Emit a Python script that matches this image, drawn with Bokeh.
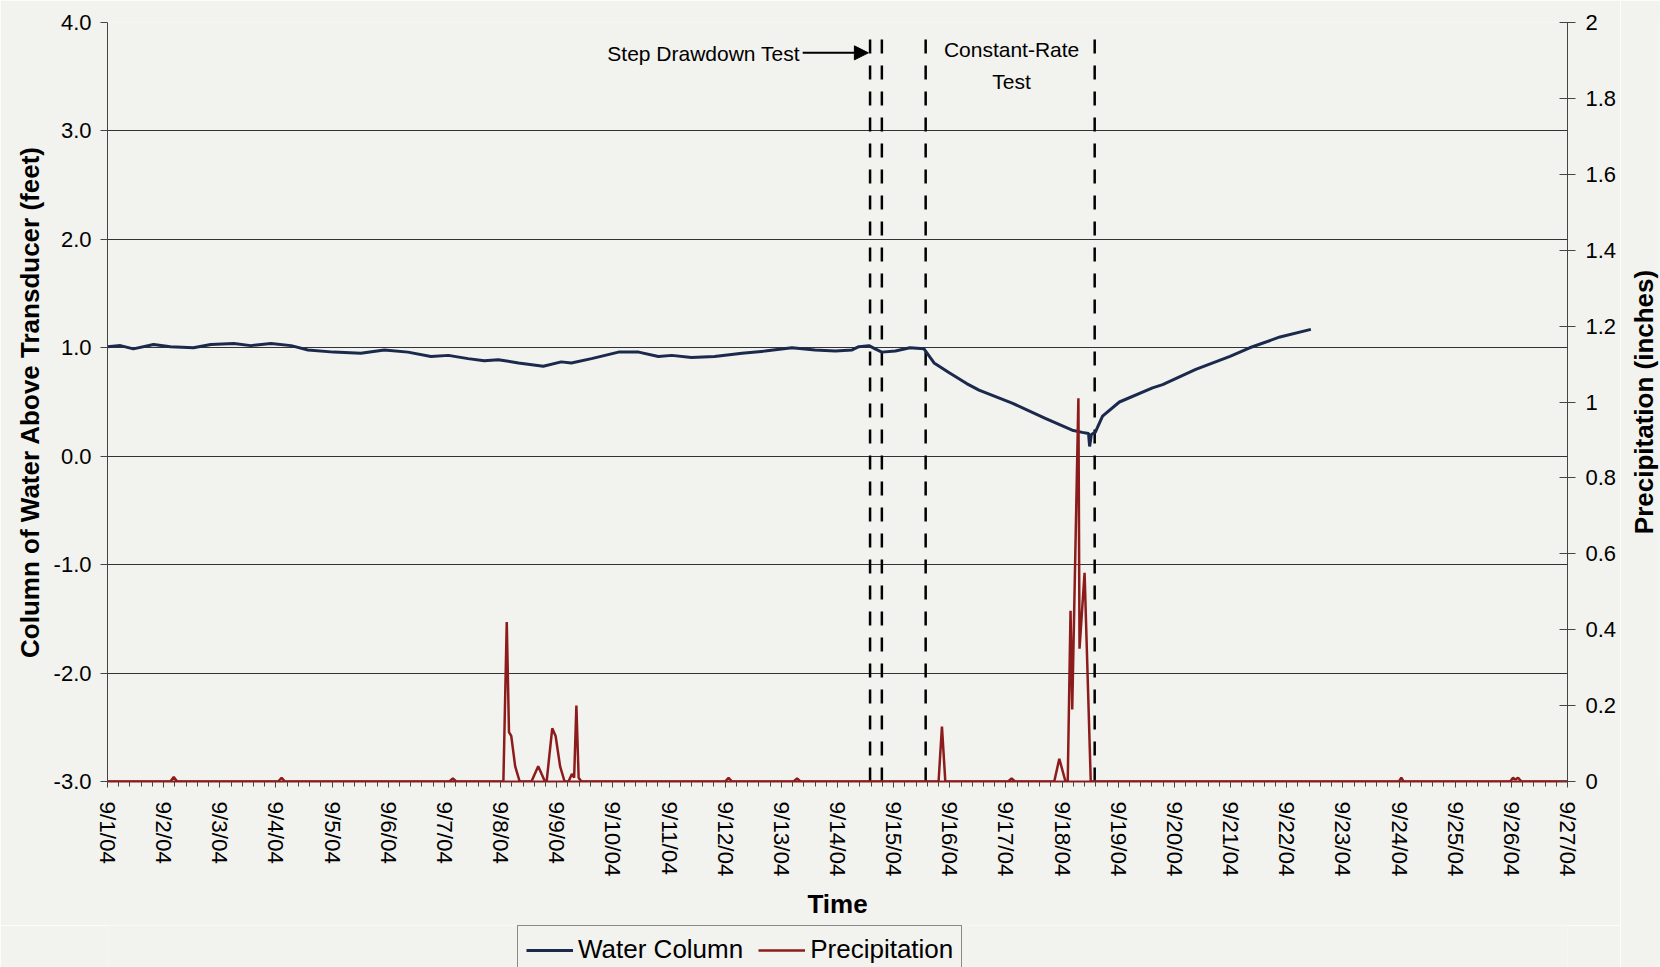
from bokeh.plotting import figure
from bokeh.layouts import column, row
from bokeh.models import (Range1d, LinearAxis, FixedTicker, Legend, LegendItem,
                          Arrow, NormalHead)
from bokeh.core.properties import value
from bokeh.embed import file_html
from bokeh.resources import INLINE

# ---- data (x = days since 9/1/04 00:00) ----
water_day = [0.00, 0.23, 0.46, 0.82, 1.12, 1.53, 1.84, 2.25, 2.55, 2.91,
             3.27, 3.57, 4.03, 4.51, 4.93, 5.35, 5.76, 6.07, 6.42, 6.71,
             6.96, 7.32, 7.76, 8.08, 8.26, 8.62, 9.10, 9.46, 9.81, 10.05,
             10.40, 10.81, 11.30, 11.71, 12.19, 12.60, 12.96, 13.26, 13.38, 13.56,
             13.67, 13.79, 14.03, 14.29, 14.54, 14.72, 14.99, 15.30, 15.52, 16.11,
             16.70, 17.18, 17.36, 17.47, 17.49, 17.52, 17.59, 17.72, 18.02, 18.61,
             18.79, 19.38, 19.99, 20.34, 20.88, 21.43]
water_ft = [1.01, 1.02, 0.99, 1.03, 1.01, 1.00, 1.03, 1.04, 1.02, 1.04,
            1.02, 0.98, 0.96, 0.95, 0.98, 0.96, 0.92, 0.93, 0.90, 0.88,
            0.89, 0.86, 0.83, 0.87, 0.86, 0.90, 0.96, 0.96, 0.92, 0.93,
            0.91, 0.92, 0.95, 0.97, 1.00, 0.98, 0.97, 0.98, 1.01, 1.02,
            0.99, 0.96, 0.97, 1.00, 0.99, 0.86, 0.77, 0.67, 0.61, 0.49,
            0.35, 0.24, 0.22, 0.21, 0.09, 0.20, 0.22, 0.37, 0.50, 0.63,
            0.66, 0.80, 0.92, 1.00, 1.10, 1.17]

precip_day = [0.00, 1.12, 1.18, 1.24, 3.04, 3.10, 3.16, 6.09, 6.15, 6.21,
              7.05, 7.11, 7.15, 7.19, 7.26, 7.34, 7.55, 7.67, 7.79, 7.82,
              7.92, 7.98, 8.06, 8.14, 8.21, 8.27, 8.31, 8.35, 8.39, 8.44,
              11.00, 11.06, 11.12, 12.22, 12.28, 12.34, 14.80, 14.86, 14.92,
              16.04, 16.10, 16.16, 16.86, 16.95, 17.06, 17.10, 17.15, 17.18,
              17.29, 17.31, 17.40, 17.51, 23.00, 23.04, 23.08, 24.98, 25.03,
              25.07, 25.12, 25.18, 26.00]
precip_in = [0, 0, 0.012, 0, 0, 0.01, 0, 0, 0.008, 0,
             0, 0.42, 0.13, 0.12, 0.04, 0, 0, 0.04, 0, 0,
             0.14, 0.12, 0.04, 0, 0, 0.02, 0.01, 0.20, 0.01, 0,
             0, 0.01, 0, 0, 0.008, 0, 0, 0.145, 0,
             0, 0.008, 0, 0, 0.06, 0, 0, 0.45, 0.19,
             1.01, 0.35, 0.55, 0, 0, 0.01, 0, 0, 0.01,
             0.005, 0.01, 0, 0]

# test period boundaries (days): step test start/end, constant-rate start/end
test_marks = [13.58, 13.79, 14.57, 17.58]

date_ticks = list(range(27))
date_labels = ["9/%d/04" % d for d in range(1, 28)]
feet_ticks = [-3, -2, -1, 0, 1, 2, 3, 4]
feet_labels = ["-3.0", "-2.0", "-1.0", "0.0", "1.0", "2.0", "3.0", "4.0"]
inch_ticks = [0, 0.2, 0.4, 0.6, 0.8, 1.0, 1.2, 1.4, 1.6, 1.8, 2.0]
inch_labels = ["0", "0.2", "0.4", "0.6", "0.8", "1", "1.2", "1.4", "1.6", "1.8", "2"]

FONT = "Liberation Sans"
BG = "#f2f2ee"
AXIS = "#444444"
NAVY = "#1b2a4c"
RED = "#8c1c1c"

p = figure(width=1620, height=925, output_backend="svg", toolbar_location=None,
           x_range=Range1d(0, 26), y_range=Range1d(-3, 4),
           min_border_left=107, min_border_right=53, min_border_top=22,
           min_border_bottom=144, background_fill_color=BG, border_fill_color=BG,
           outline_line_color=None)
p.extra_y_ranges = {"precip": Range1d(0, 2)}

# horizontal grid only
p.xgrid.visible = False
p.ygrid.ticker = FixedTicker(ticks=feet_ticks)
p.ygrid.grid_line_color = "#333333"
p.ygrid.grid_line_width = 1

# bottom (date) axis
xa = p.xaxis[0]
xa.ticker = FixedTicker(ticks=date_ticks,
                        minor_ticks=[round(i * 0.2, 1) for i in range(131)])
xa.major_label_overrides = {t: s for t, s in zip(date_ticks, date_labels)}
xa.major_label_orientation = "vertical"
xa.major_label_text_font = FONT
xa.major_label_text_font_size = "22.5px"
xa.major_label_text_color = "black"
xa.major_label_standoff = 14
xa.major_tick_out = 6
xa.major_tick_in = 0
xa.minor_tick_out = 5
xa.minor_tick_in = 0
xa.major_tick_line_color = AXIS
xa.minor_tick_line_color = AXIS
xa.axis_line_color = RED
xa.axis_line_width = 2
xa.axis_label = "Time"
xa.axis_label_text_font = FONT
xa.axis_label_text_font_size = "26px"
xa.axis_label_text_font_style = "bold"
xa.axis_label_text_color = "black"
xa.axis_label_standoff = 9

# left axis (feet)
ya = p.yaxis[0]
ya.ticker = FixedTicker(ticks=feet_ticks)
ya.major_label_overrides = {t: s for t, s in zip(feet_ticks, feet_labels)}
ya.minor_tick_line_color = None
ya.major_tick_out = 7
ya.major_tick_in = 0
ya.major_tick_line_color = AXIS
ya.axis_line_color = AXIS
ya.major_label_text_font = FONT
ya.major_label_text_font_size = "22px"
ya.major_label_text_color = "black"
ya.major_label_standoff = 9
ya.axis_label = "Column of Water Above Transducer (feet)"
ya.axis_label_text_font = FONT
ya.axis_label_text_font_size = "26px"
ya.axis_label_text_font_style = "bold"
ya.axis_label_text_color = "black"
ya.axis_label_standoff = 6

# right axis (inches); its title is drawn in the side strip below
ra = LinearAxis(y_range_name="precip", ticker=FixedTicker(ticks=inch_ticks))
ra.major_label_overrides = {t: s for t, s in zip(inch_ticks, inch_labels)}
ra.minor_tick_line_color = None
ra.major_tick_out = 8
ra.major_tick_in = 8
ra.major_tick_line_color = AXIS
ra.axis_line_color = AXIS
ra.major_label_text_font = FONT
ra.major_label_text_font_size = "22px"
ra.major_label_text_color = "black"
ra.major_label_standoff = 10
p.add_layout(ra, "right")

# test period markers
p.segment(x0=test_marks, y0=[-3] * len(test_marks), x1=test_marks,
          y1=[3.92] * len(test_marks), line_color="black", line_width=2.5,
          line_dash="14 12")

# series
p.line(water_day, water_ft, line_color=NAVY, line_width=3)
p.line(precip_day, precip_in, line_color=RED, line_width=2.5,
       y_range_name="precip")

# annotations
p.text(x=[12.33], y=[3.71], text=["Step Drawdown Test"], text_align="right",
       text_baseline="middle", text_font=value(FONT), text_font_size="21px",
       text_color="black")
p.add_layout(Arrow(end=NormalHead(size=14, fill_color="black", line_color="black"),
                   x_start=12.38, y_start=3.72, x_end=test_marks[0] - 0.03,
                   y_end=3.72, line_color="black", line_width=2))
p.text(x=[16.10, 16.10], y=[3.75, 3.46], text=["Constant-Rate", "Test"],
       text_align="center", text_baseline="middle", text_font=value(FONT),
       text_font_size="21px", text_color="black")

# legend strip under the chart; its key lines reuse the series but sit
# outside this strip's ranges, so only the legend itself shows
lg = figure(width=1620, height=42, output_backend="svg", toolbar_location=None,
            x_range=Range1d(100, 101), y_range=Range1d(100, 101),
            x_axis_location=None, y_axis_location=None,
            min_border_left=0, min_border_right=0, min_border_top=0,
            min_border_bottom=0, background_fill_color=BG, border_fill_color=BG,
            outline_line_color=None)
lg.xgrid.visible = False
lg.ygrid.visible = False
key_water = lg.line(water_day, water_ft, line_color=NAVY, line_width=3)
key_precip = lg.line(precip_day, precip_in, line_color=RED, line_width=2.5)
legend = Legend(items=[LegendItem(label="Water Column", renderers=[key_water]),
                       LegendItem(label="Precipitation", renderers=[key_precip])],
                location=(410, -7), orientation="horizontal",
                label_text_font=FONT, label_text_font_size="26px",
                label_text_color="black", glyph_width=47, glyph_height=22,
                label_standoff=5, spacing=15, padding=8, margin=0,
                border_line_color="#222222", border_line_width=1.5,
                background_fill_color=BG, background_fill_alpha=1.0)
lg.add_layout(legend)

# narrow strip on the right carrying the precipitation title, reading upward
side = figure(width=40, height=967, output_backend="svg", toolbar_location=None,
              x_range=Range1d(0, 1), y_range=Range1d(0, 2),
              x_axis_location=None, y_axis_location="left",
              min_border_left=38, min_border_right=0, min_border_top=22,
              min_border_bottom=186, background_fill_color=BG,
              border_fill_color=BG, outline_line_color=None)
side.xgrid.visible = False
side.ygrid.visible = False
sa = side.yaxis[0]
sa.ticker = FixedTicker(ticks=[])
sa.axis_line_color = None
sa.major_tick_line_color = None
sa.minor_tick_line_color = None
sa.axis_label = "Precipitation (inches)"
sa.axis_label_text_font = FONT
sa.axis_label_text_font_size = "26px"
sa.axis_label_text_font_style = "bold"
sa.axis_label_text_color = "black"
sa.axis_label_standoff = 0

page = row(column(p, lg, spacing=0), side, spacing=0)
open("out.html", "w").write(file_html(page, INLINE))
